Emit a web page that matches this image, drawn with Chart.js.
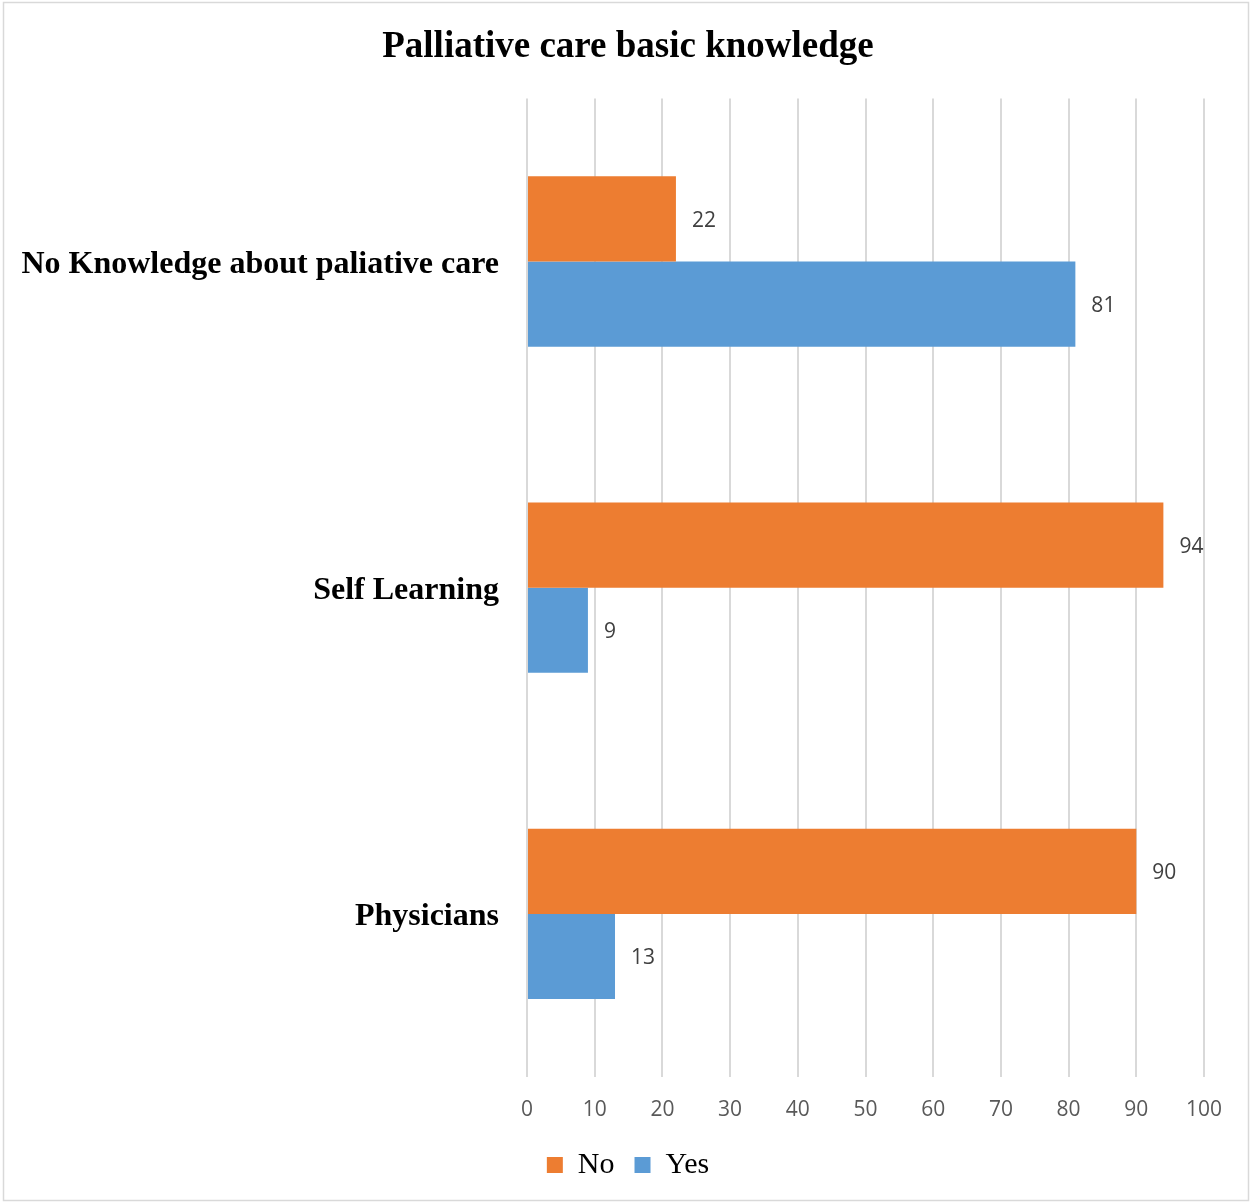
<!DOCTYPE html>
<html>
<head>
<meta charset="utf-8">
<title>Palliative care basic knowledge</title>
<script src="https://cdn.jsdelivr.net/npm/chart.js@4/dist/chart.umd.min.js"></script>
<style>
  html, body { margin: 0; padding: 0; background: #fff; }
  #wrap { width: 1251px; height: 1203px; position: relative; }
</style>
</head>
<body>
<div id="wrap"><canvas id="chartId" width="1251" height="1203"></canvas></div>
<script>
const categories = ["No Knowledge about paliative care", "Self Learning", "Physicians"];
const noValues = [22, 94, 90];
const yesValues = [81, 9, 13];
const xTicks = [0, 10, 20, 30, 40, 50, 60, 70, 80, 90, 100];

// white page with a thin grey frame
const framePlugin = {
  id: 'frame',
  beforeDraw(chart) {
    const ctx = chart.ctx;
    ctx.save();
    ctx.fillStyle = '#ffffff';
    ctx.fillRect(0, 0, chart.width, chart.height);
    ctx.strokeStyle = '#d9d9d9';
    ctx.lineWidth = 1.5;
    ctx.strokeRect(3.5, 2.5, chart.width - 6, chart.height - 5);
    ctx.restore();
  }
};

// value written just past the end of every bar
const valueLabels = {
  id: 'valueLabels',
  afterDatasetsDraw(chart) {
    const ctx = chart.ctx;
    ctx.save();
    ctx.font = '21px "Open Sans", sans-serif';
    ctx.fillStyle = '#404040';
    ctx.textAlign = 'left';
    ctx.textBaseline = 'middle';
    chart.data.datasets.forEach((ds, i) => {
      chart.getDatasetMeta(i).data.forEach((bar, j) => {
        ctx.fillText(ds.data[j], bar.x + 16, bar.y + 2);
      });
    });
    ctx.restore();
  }
};

var chrt = document.getElementById("chartId").getContext("2d");

let chartConfig = {
  type: 'bar',
  data: {
    labels: categories,
    datasets: [{
      label: "No",
      data: noValues,
      backgroundColor: '#ED7D31',
      categoryPercentage: 0.522,
      barPercentage: 1
    }, {
      label: "Yes",
      data: yesValues,
      backgroundColor: '#5B9BD5',
      categoryPercentage: 0.522,
      barPercentage: 1
    }]
  },
  options: {
    indexAxis: 'y',
    responsive: false,
    animation: false,
    layout: {
      padding: { left: 10, right: 5, top: 0, bottom: 13 }
    },
    scales: {
      x: {
        min: 0,
        max: 100,
        afterBuildTicks(scale) {
          scale.ticks = xTicks.map(v => ({ value: v }));
        },
        afterFit(scale) {
          scale.height = 53;
        },
        grid: { color: '#d9d9d9', lineWidth: 2, drawTicks: false },
        border: { display: false },
        ticks: {
          padding: 20,
          color: '#595959',
          font: { family: '"Open Sans", sans-serif', size: 21 }
        }
      },
      y: {
        afterFit(scale) {
          scale.width = 517;
        },
        grid: { display: false, drawTicks: false },
        border: { display: false },
        ticks: {
          padding: 28,
          labelOffset: 3,
          color: '#000000',
          font: { family: '"Liberation Serif", "Times New Roman", serif', size: 32, weight: 'bold' }
        }
      },
      // empty strip on the right so the plot ends short of the frame
      yRight: {
        axis: 'y',
        position: 'right',
        afterFit(scale) {
          scale.width = 42;
        },
        grid: { display: false, drawTicks: false },
        border: { display: false },
        ticks: { display: false }
      }
    },
    plugins: {
      title: {
        display: true,
        text: 'Palliative care basic knowledge',
        color: '#000000',
        font: { family: '"Liberation Serif", "Times New Roman", serif', size: 37, weight: 'bold' },
        padding: { top: 25, bottom: 29 }
      },
      legend: {
        position: 'bottom',
        labels: {
          color: '#000000',
          boxWidth: 16,
          boxHeight: 16,
          padding: 20,
          font: { family: '"Liberation Serif", "Times New Roman", serif', size: 30 }
        }
      },
      tooltip: { enabled: false }
    }
  },
  plugins: [framePlugin, valueLabels]
};
window.barChart = new Chart(chrt, chartConfig);
</script>
</body>
</html>
